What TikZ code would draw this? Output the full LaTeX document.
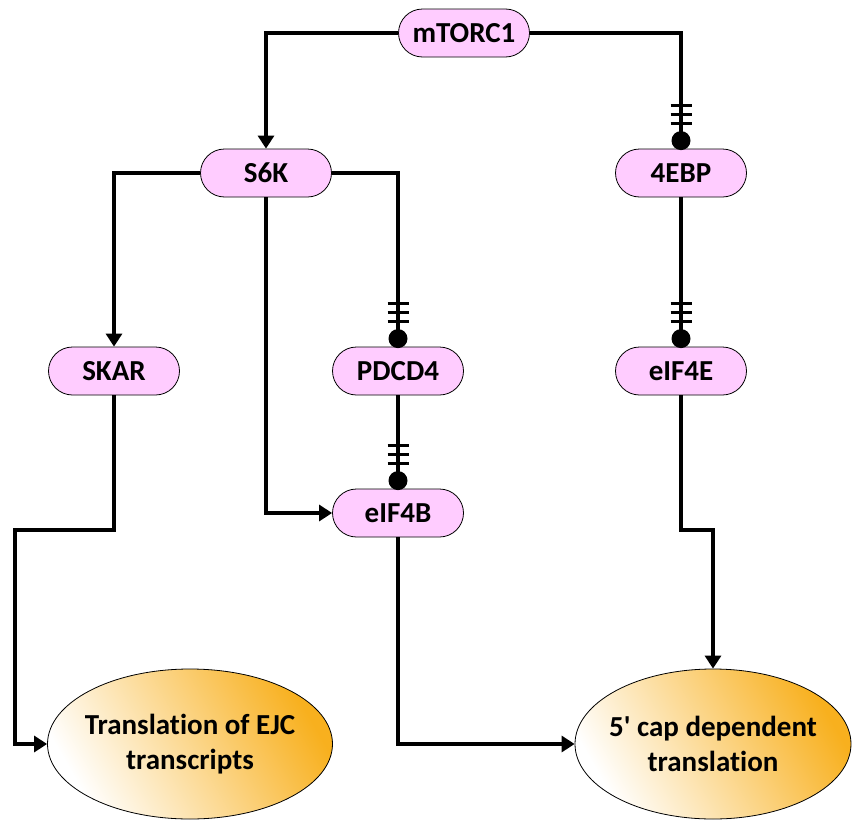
\documentclass[tikz,border=0pt]{standalone}
\usepackage{fontspec}
\setmainfont{Carlito}[Ligatures=NoCommon]
\usetikzlibrary{shapes.misc,shapes.geometric,arrows.meta,calc}
\definecolor{pinkfill}{RGB}{255,204,255}
\definecolor{orangeend}{RGB}{248,176,30}
\definecolor{orangemid}{RGB}{252,222,175}
\newcommand{\inhibmark}[1]{%
  \fill ($(#1.north)+(0,-8)$) circle (9.5);
  \foreach \dd in {25,34,43}{\draw[line width=3.2pt] ($(#1.north)+(-10.5,-\dd)$) -- ++(21,0);}
}
\newcommand{\zw}[1]{\makebox[0pt]{#1}}
\begin{document}
\begin{tikzpicture}[x=1pt,y=-1pt,
  prot/.style={rounded rectangle, draw=black, line width=0.8pt, fill=pinkfill,
    minimum width=131pt, minimum height=48pt, inner sep=0pt,
    font=\fontsize{29}{34}\selectfont\bfseries},
  outcome/.style={ellipse, draw=black, line width=0.8pt, inner sep=0pt,
    left color=white, middle color=orangemid, right color=orangeend, shading angle=120,
    align=center, font=\fontsize{29}{35}\selectfont\bfseries},
  link/.style={line width=3.2pt},
  act/.style={link, -{Triangle[length=13pt,width=16pt]}}]
\useasboundingbox (0,0) rectangle (852,822);
\node[prot] (m) at (464,33) {mTORC1};
\node[prot] (s6k) at (266,173) {S6K};
\node[prot] (ebp) at (681,173) {4EBP};
\node[prot] (skar) at (114,371) {SKAR};
\node[prot] (pdcd) at (398,371) {PDCD4};
\node[prot] (e4e) at (681,371) {eIF4E};
\node[prot] (eb) at (398,513) {eIF4B};
\node[outcome, minimum width=285pt, minimum height=150pt] (ejc) at (190,744) {\zw{Translation of EJC}\\\zw{transcripts}};
\node[outcome, minimum width=276pt, minimum height=150pt] (cap) at (713,744) {\zw{5\textquotesingle{} cap dependent}\\\zw{translation}};
\coordinate (k1) at (15,530);
\coordinate (k2) at (713,530);
\draw[act] (m.west) -| (s6k.north);
\draw[link] (m.east) -| ($(ebp.north)+(0,-8)$);
\draw[act] (s6k.west) -| (skar.north);
\draw[link] (s6k.east) -| ($(pdcd.north)+(0,-8)$);
\draw[act] (s6k.south) |- (eb.west);
\draw[link] (ebp.south) -- ($(e4e.north)+(0,-8)$);
\draw[link] (pdcd.south) -- ($(eb.north)+(0,-8)$);
\draw[act] (skar.south) |- (k1) |- (ejc.west);
\draw[act] (e4e.south) |- (k2) -- (cap.north);
\draw[act] (eb.south) |- (cap.west);
\inhibmark{ebp}
\inhibmark{pdcd}
\inhibmark{e4e}
\inhibmark{eb}
\end{tikzpicture}
\end{document}
